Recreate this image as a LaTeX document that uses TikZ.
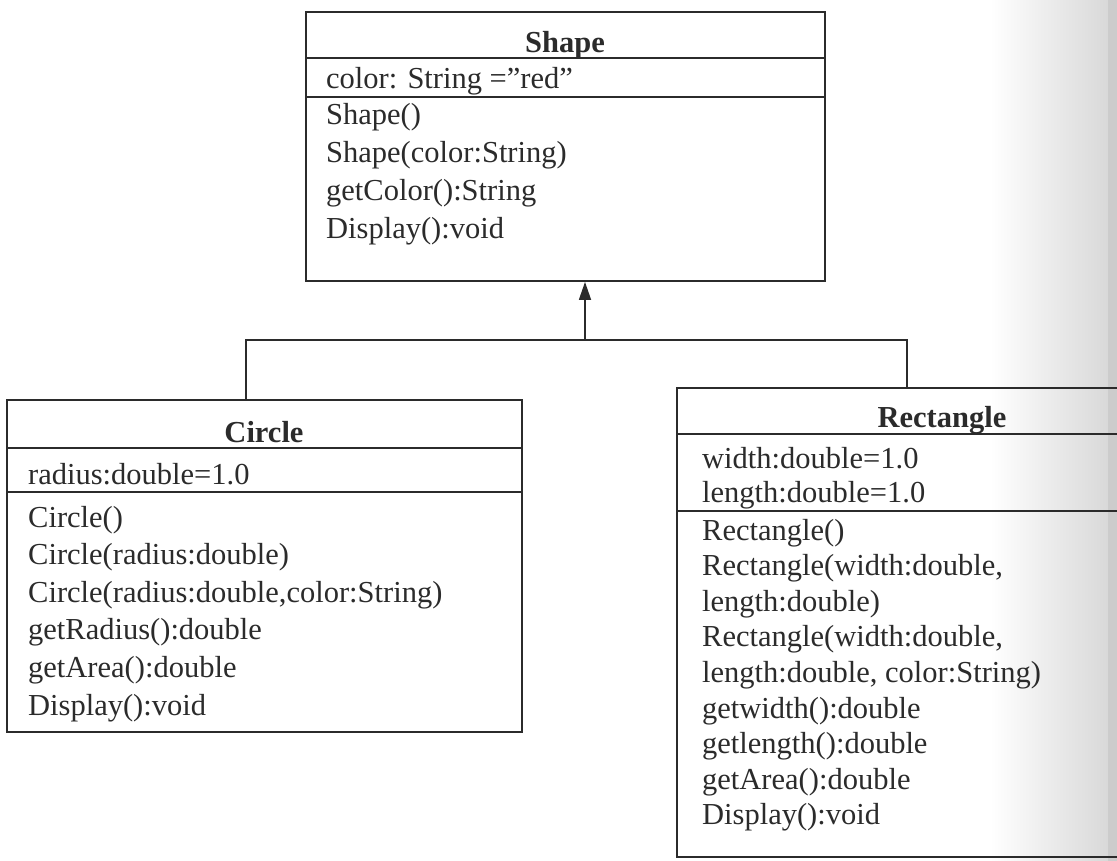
\documentclass[tikz,border=0pt]{standalone}
\usepackage{fontspec}
\setmainfont{Liberation Serif}
\usetikzlibrary{arrows.meta}
\definecolor{ink}{HTML}{2B2B2B}
\begin{document}
\begin{tikzpicture}[x=1pt,y=-1pt,
  classbox/.style={draw=ink, line width=1.8pt, inner sep=0pt, rectangle},
  sep/.style={draw=ink, line width=1.6pt},
  txt/.style={text=ink, inner sep=0pt, font=\fontsize{30.5pt}{36pt}\selectfont},
  ttl/.style={text=ink, inner sep=0pt, font=\fontsize{30.5pt}{36pt}\selectfont\bfseries},
  link/.style={draw=ink, line width=1.6pt},
]
\useasboundingbox (0,0) rectangle (1117,861);
\clip (0,0) rectangle (1117,861);
\shade[left color=white, right color=gray!30] (990,0) rectangle (1108,861);
\fill[gray!40] (1108,0) rectangle (1117,861);

% ---- Shape ----
\node[classbox, minimum width=519pt, minimum height=269pt] (shape) at (565.5,146.5) {};
\draw[sep] ([yshift=-47pt]shape.north west) -- ([yshift=-47pt]shape.north east);
\draw[sep] ([yshift=-86pt]shape.north west) -- ([yshift=-86pt]shape.north east);
\node[ttl, anchor=base] (shapettl) at (565,53) {Shape};
\node[txt, anchor=base west] (shapeattr) at (326,89) {color: String =”red”};
\foreach \t [count=\i] in {Shape(), Shape(color:String), getColor():String, Display():void}
  \node[txt, anchor=base west] (sm\i) at (326,{125+37.7*(\i-1)}) {\t};

% ---- Circle ----
\node[classbox, minimum width=515pt, minimum height=332pt] (circle) at (264.5,566) {};
\draw[sep] ([yshift=-49pt]circle.north west) -- ([yshift=-49pt]circle.north east);
\draw[sep] ([yshift=-93pt]circle.north west) -- ([yshift=-93pt]circle.north east);
\node[ttl, anchor=base] (circlettl) at (264,442) {Circle};
\node[txt, anchor=base west] (circleattr) at (28,484) {radius:double=1.0};
\foreach \t [count=\i] in {Circle(), Circle(radius:double), {Circle(radius:double,color:String)}, getRadius():double, getArea():double, Display():void}
  \node[txt, anchor=base west] (cm\i) at (28,{527+37.6*(\i-1)}) {\t};

% ---- Rectangle ----
\node[classbox, minimum width=463pt, minimum height=469pt] (rect) at (908.5,622.5) {};
\draw[sep] ([yshift=-47pt]rect.north west) -- ([yshift=-47pt]rect.north east);
\draw[sep] ([yshift=-124pt]rect.north west) -- ([yshift=-124pt]rect.north east);
\node[ttl, anchor=base] (rectttl) at (942,427) {Rectangle};
\node[txt, anchor=base west] (ra1) at (702,468) {width:double=1.0};
\node[txt, anchor=base west] (ra2) at (702,502) {length:double=1.0};
\foreach \t [count=\i] in {Rectangle(), {Rectangle(width:double,}, length:double), {Rectangle(width:double,}, {length:double, color:String)}, getwidth():double, getlength():double, getArea():double, Display():void}
  \node[txt, anchor=base west] (rm\i) at (702,{540+35.6*(\i-1)}) {\t};

% ---- connectors ----
\coordinate (jc) at (585,340);
\coordinate (jl) at (246,340);
\coordinate (jr) at (907,340);
\draw[link] (jl |- circle.north) -- (jl) -- (jr) -- (jr |- rect.north);
\draw[link, -{Triangle[length=18pt,width=12pt]}] (jc) -- (jc |- shape.south);
\end{tikzpicture}
\end{document}
